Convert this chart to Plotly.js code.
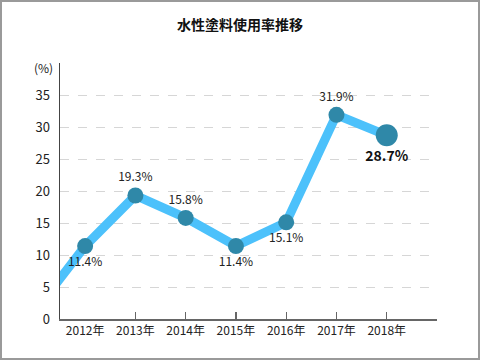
<!DOCTYPE html>
<html>
<head>
<meta charset="utf-8">
<script src="https://cdn.plot.ly/plotly-3.0.1.min.js"></script>
<style>
  html, body { margin: 0; padding: 0; background: #fff; }
  #wrap { position: relative; width: 480px; height: 360px; }
  #chart { width: 480px; height: 360px; }
  #frame { position: absolute; left: 0; top: 0; width: 480px; height: 360px;
           box-sizing: border-box; border: 2px solid #9a9a9a; pointer-events: none; }
</style>
</head>
<body>
<div id="wrap"><div id="chart"></div><div id="frame"></div></div>
<script>
// Data
const years = [2011, 2012, 2013, 2014, 2015, 2016, 2017, 2018];
const rates = [1.2, 11.4, 19.3, 15.8, 11.4, 15.1, 31.9, 28.7];
const labelYears = [2012, 2013, 2014, 2015, 2016, 2017, 2018];
const tickLabels = ['2012年', '2013年', '2014年', '2015年', '2016年', '2017年', '2018年'];
const yTicks = [0, 5, 10, 15, 20, 25, 30, 35];
const title = '水性塗料使用率推移';

const FONT = '"Noto Sans CJK JP", "Noto Sans", sans-serif';
const shown = years.map((y, i) => y >= 2012);
const textArr = rates.map((v, i) => shown[i] ? v.toFixed(1) + '%' : '');
const textPos = ['bottom center', 'bottom center', 'top center', 'top center',
                 'bottom center', 'bottom center', 'top center', 'bottom center'];
const last = rates.length - 1;

const lineTrace = {
  x: years, y: rates, type: 'scatter', mode: 'lines',
  line: { color: '#4cc1fb', width: 9 },
  hoverinfo: 'skip', showlegend: false
};
const markerTrace = {
  x: years.slice(1, last), y: rates.slice(1, last), type: 'scatter', mode: 'markers+text',
  marker: { color: '#2f88a8', size: 16 },
  text: textArr.slice(1, last), textposition: textPos.slice(1, last),
  textfont: { family: FONT, size: 12, color: '#222' },
  showlegend: false
};
const lastTrace = {
  x: [years[last]], y: [rates[last]], type: 'scatter', mode: 'markers+text',
  marker: { color: '#2f88a8', size: 22 },
  text: ['<b>' + textArr[last] + '</b>'], textposition: 'bottom center',
  textfont: { family: FONT, size: 14, color: '#111' },
  showlegend: false
};
const tickTrace = { x: [2019], y: [null], xaxis: 'x2', type: 'scatter', mode: 'markers', showlegend: false, hoverinfo: 'skip' };

const layout = {
  width: 480, height: 360,
  margin: { l: 60, r: 43, t: 63, b: 41 },
  paper_bgcolor: '#fff', plot_bgcolor: '#fff',
  font: { family: FONT, size: 12, color: '#222' },
  title: { text: '<b>' + title + '</b>', x: 0.5, xref: 'container', y: 1 - 25 / 360,
           yref: 'container', yanchor: 'middle', font: { family: FONT, size: 14, color: '#111' } },
  xaxis: {
    type: 'linear', range: [2011.5, 2019], tickvals: labelYears, ticktext: tickLabels,
    showgrid: false, zeroline: false, showline: true, linecolor: '#666', linewidth: 2,
    ticks: '', tickfont: { family: FONT, size: 12, color: '#222' }, fixedrange: true
  },
  xaxis2: {
    overlaying: 'x', range: [2011.5, 2019], tickvals: [2013, 2014, 2015, 2016, 2017, 2018, 2019],
    showticklabels: false, ticks: 'inside', ticklen: 7, tickwidth: 1.2, tickcolor: '#666',
    showgrid: false, zeroline: false, showline: false, anchor: 'y', side: 'bottom'
  },
  yaxis: {
    range: [0, 40], tickvals: yTicks, showgrid: true, gridcolor: '#d6d6d6', griddash: 'dash',
    gridwidth: 1, zeroline: false, showline: true, linecolor: '#444', linewidth: 1.5,
    ticks: '', ticklabelstandoff: 6, tickfont: { family: FONT, size: 13, color: '#222' }, fixedrange: true
  },
  annotations: [{
    text: '(%)', xref: 'paper', x: 0, xanchor: 'right', xshift: -5,
    yref: 'y', y: 40, yanchor: 'middle', yshift: -4, showarrow: false,
    font: { family: FONT, size: 12, color: '#222' }
  }]
};

Plotly.newPlot('chart', [lineTrace, markerTrace, lastTrace, tickTrace], layout, { displayModeBar: false, staticPlot: true });
</script>
</body>
</html>
